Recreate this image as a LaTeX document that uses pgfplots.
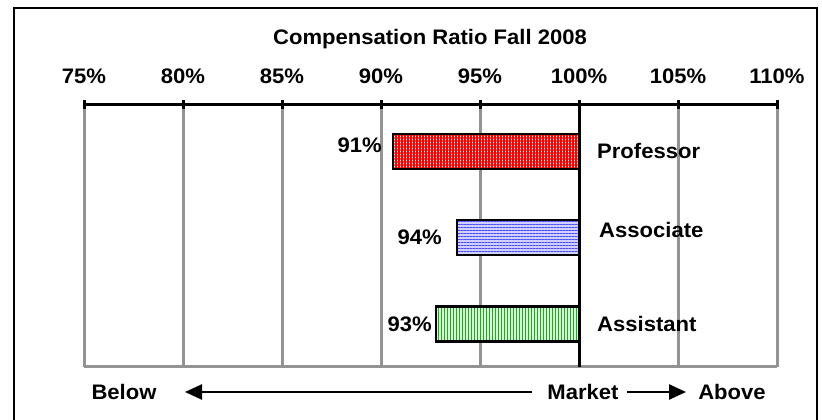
\documentclass[border=0pt]{standalone}
\usepackage{fontspec}
\setmainfont{Liberation Sans}[FakeStretch=1.05]
\usepackage{pgfplots}
\pgfplotsset{compat=1.18}
\usetikzlibrary{patterns.meta,arrows.meta}

\begin{document}
\begin{tikzpicture}[font=\bfseries\fontsize{21}{25}\selectfont]
    \useasboundingbox (0,0) rectangle (822pt,420pt);
    % outer frame
    \draw[line width=2pt] (14pt,-5pt) rectangle (817pt,412pt);
    \node at (430pt,381pt) {Compensation Ratio Fall 2008};
    \begin{axis}[
        at={(84pt,53pt)}, anchor=south west,
        scale only axis,
        width=693pt, height=262pt,
        xmin=-25, xmax=10,
        ymin=0, ymax=3,
        clip=false,
        axis x line*=top,
        axis y line=none,
        x axis line style={line width=3pt, -},
        xtick={-25,-20,...,10},
        xticklabels={75\%,80\%,85\%,90\%,95\%,100\%,105\%,110\%},
        xticklabel style={font=\bfseries\fontsize{21}{25}\selectfont, yshift=13pt},
        ytick=\empty,
        tick align=center,
        major tick length=9pt,
        tick style={black, line width=3pt},
        xmajorgrids,
        major grid style={color=gray!85, line width=3pt},
        bar width=35pt,
        bar shift=0pt,
        ]
        % bottom edge of the plot frame
        \addplot[gray!85, line width=3pt, forget plot] coordinates {(-25,0) (10,0)};

        % Professor
        \addplot[xbar, draw=black, line width=2.5pt, fill=white,
            postaction={pattern={Lines[angle=0, distance=3pt, line width=1.2pt]}, pattern color=red},
            postaction={pattern={Lines[angle=90, distance=3pt, line width=1.2pt]}, pattern color=red}]
            coordinates {(-9.40,2.47)};
        % Associate
        \addplot[xbar, draw=black, line width=2.5pt, fill=blue!18,
            postaction={pattern={Lines[angle=0, distance=3pt, line width=1pt]}, pattern color=blue!70}]
            coordinates {(-6.16,1.48)};
        % Assistant
        \addplot[xbar, draw=black, line width=2.5pt, fill=green!18,
            postaction={pattern={Lines[angle=90, distance=3pt, line width=0.9pt]}, pattern color={rgb,255:red,40;green,160;blue,40}}]
            coordinates {(-7.22,0.49)};

        % market line at 100%
        \addplot[black, line width=3pt] coordinates {(0,0) (0,3)};

        % value labels
        \node[anchor=east, inner sep=0pt, xshift=-11pt, yshift=6pt] at (axis cs:-9.40,2.47) {91\%};
        \node[anchor=east, inner sep=0pt, xshift=-15pt] at (axis cs:-6.16,1.48) {94\%};
        \node[anchor=east, inner sep=0pt, xshift=-4pt] at (axis cs:-7.22,0.49) {93\%};

        % category labels
        \node[anchor=west, inner sep=0pt, xshift=18pt] at (axis cs:0,2.47) {Professor};
        \node[anchor=west, inner sep=0pt, xshift=20pt, yshift=8pt] at (axis cs:0,1.48) {Associate};
        \node[anchor=west, inner sep=0pt, xshift=18pt] at (axis cs:0,0.49) {Assistant};
    \end{axis}
    % below / market / above
    \node at (124pt,28pt) {Below};
    \node at (583pt,28pt) {Market};
    \node at (732pt,28pt) {Above};
    \draw[line width=2.5pt, -{Triangle[length=17pt,width=15pt]}] (532pt,28pt) -- (185pt,28pt);
    \draw[line width=2.5pt, -{Triangle[length=17pt,width=15pt]}] (627pt,28pt) -- (686pt,28pt);
\end{tikzpicture}
\end{document}
